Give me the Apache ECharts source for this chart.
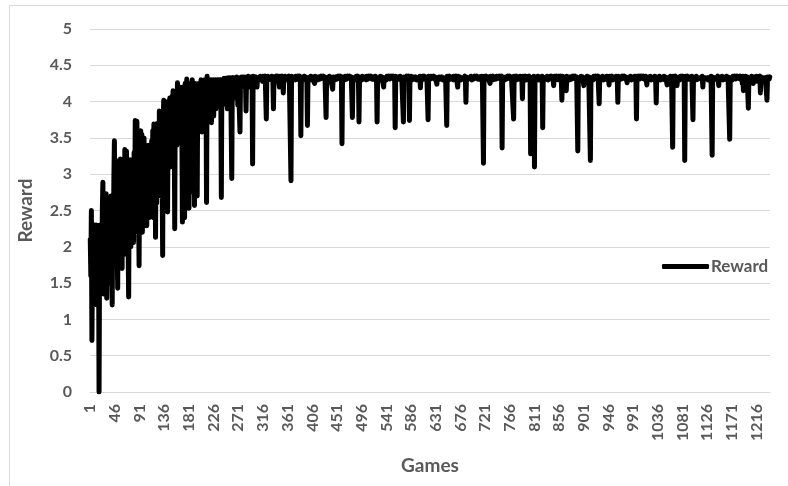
<!DOCTYPE html>
<html>
<head>
<meta charset="utf-8">
<script src="https://cdn.jsdelivr.net/npm/echarts@6/dist/echarts.min.js"></script>
<style>
html,body{margin:0;padding:0;background:#fff;}
#chart{width:788px;height:486px;}
</style>
</head>
<body>
<div id="chart"></div>
<script>
// Reward per game (games 1..1240)
const rewardsEarly = [
2.1,1.6,2.5,0.71,1.8,2.2,1.4,2.3,1.9,2.2,
1.5,2.3,1.2,2.0,1.7,2.25,0.0,1.9,2.3,1.4,
2.2,1.6,2.5,2.89,1.35,2.7,1.8,2.6,2.1,2.73,
1.29,2.4,1.9,2.6,1.6,2.5,1.8,1.5,2.7,1.9,
1.2,2.6,1.9,2.9,3.46,2.1,3.2,1.8,2.9,2.0,
1.43,3.0,2.0,2.8,1.9,3.21,2.2,3.0,1.7,2.8,
2.1,3.1,2.0,3.34,2.3,1.9,3.32,2.2,3.1,2.0,
1.31,2.9,2.3,3.2,2.0,3.0,2.5,3.15,2.2,2.06,
3.3,2.4,3.74,2.6,3.5,3.73,2.2,3.6,2.6,1.74,
3.2,2.4,3.6,2.7,3.55,2.2,3.4,2.5,3.5,2.8,
3.3,2.5,3.37,2.29,3.1,2.6,3.4,2.4,3.35,2.7,
3.2,2.6,3.46,2.8,3.6,2.4,3.69,2.9,3.5,2.13,
3.4,2.6,3.7,3.0,3.6,2.8,3.87,3.1,3.75,2.7,
3.6,3.0,1.88,3.8,4.02,3.2,3.9,2.9,3.85,3.3,
3.9,2.48,4.0,3.2,3.7,4.05,3.1,3.95,3.4,4.07,
3.6,4.15,3.3,3.9,2.25,4.1,3.6,4.0,3.4,4.26,
3.8,4.1,3.5,4.2,3.9,3.6,4.15,3.7,2.34,4.05,
4.2,3.7,2.4,4.25,3.9,4.1,4.31,3.5,4.2,3.8,
2.53,4.1,4.25,3.6,4.2,3.9,4.3,3.7,2.75,4.2,
2.57,4.25,3.9,4.2,3.6,2.7,4.22,3.8,4.25,4.0,
4.22,3.6,4.3,3.9,3.58,4.2,4.25,4.0,3.8,4.3,
3.9,4.25,2.61,4.35,4.1,3.85,4.3,4.0,4.25,4.1,
4.3,3.71,4.25,4.1,4.3,3.8,4.28,4.15,4.3,3.9,
4.28,4.2,4.3,4.0,4.3,4.1,4.27,4.3,4.2,2.68,
4.3,3.95,4.28,4.15,4.32,4.0,4.3,4.2,4.32,4.1,
3.9,4.25,4.33,4.1,4.3,4.2,4.33,4.32,2.94,4.3,
4.33,4.2,4.32,4.05,4.33,4.3,4.25,4.34,4.3,3.95,
4.33,4.31,4.34,3.58,4.33,4.2,4.34,4.3,4.33,4.25,
4.34,4.32,4.33,4.3,3.87,4.34,4.33,4.31,4.35,4.2,
4.33,4.35,4.3,4.34,4.33,4.31,3.14,4.35,4.33,4.34
];
const rewardsLate = [
4.35,4.31,4.34,4.3,4.2,4.33,4.35,4.31,4.34,4.32,4.35,4.3,4.34,4.33,4.28,4.35,4.32,4.34,4.31,4.35,
4.33,3.76,4.34,4.31,4.35,4.3,4.33,4.35,4.32,4.34,4.31,4.35,4.33,4.3,3.9,4.34,4.35,4.31,4.33,4.35,
4.32,4.34,4.35,4.31,4.33,4.2,4.35,4.32,4.34,4.3,4.35,4.33,4.12,4.34,4.31,4.35,4.33,4.3,4.34,4.35,
4.31,4.33,4.35,4.32,4.34,4.3,2.91,4.35,4.33,4.31,4.34,4.35,4.32,4.33,4.3,4.35,4.34,4.31,4.33,4.35,
4.32,4.34,4.35,4.3,3.53,4.33,4.35,4.31,4.34,4.32,4.35,4.33,4.3,4.34,4.35,4.31,3.67,4.33,4.35,4.32,
4.34,4.31,4.35,4.33,4.3,4.34,4.35,4.32,4.33,4.25,4.35,4.31,4.34,4.33,4.35,4.3,4.32,4.34,4.35,4.31,
4.33,4.35,4.32,4.34,4.3,4.35,4.33,4.31,4.34,4.35,3.78,4.33,4.35,4.31,4.34,4.32,4.35,4.3,4.33,4.34,
4.35,4.31,4.17,4.34,4.33,4.35,4.3,4.32,4.34,4.35,4.31,4.33,4.35,4.32,4.34,4.3,4.35,4.33,4.31,3.42,
4.34,4.35,4.32,4.33,4.3,4.35,4.34,4.31,4.33,4.35,4.32,4.34,4.3,4.35,4.33,4.31,4.34,4.35,3.78,4.33,
4.35,4.31,4.34,4.33,4.3,4.35,4.32,4.34,4.35,4.31,3.72,4.33,4.35,4.32,4.34,4.3,4.35,4.33,4.31,4.34,
4.35,4.32,4.33,4.3,4.35,4.34,4.31,4.33,4.35,4.32,4.34,4.3,4.35,4.33,4.31,4.34,4.35,4.32,4.33,4.3,
4.35,4.34,4.31,3.72,4.33,4.35,4.32,4.34,4.3,4.35,4.33,4.31,4.34,4.35,4.32,4.2,4.33,4.35,4.31,4.34,
4.3,4.35,4.33,4.32,4.34,4.35,4.31,4.33,4.3,4.35,4.34,4.32,4.33,4.35,4.31,4.34,3.64,4.35,4.33,4.3,
4.34,4.35,4.32,4.33,4.31,4.35,4.34,4.3,4.33,4.35,4.32,3.72,4.34,4.35,4.31,4.33,4.3,4.35,4.34,4.32,
4.33,4.35,3.74,4.34,4.31,4.35,4.33,4.3,4.34,4.32,4.35,4.33,4.31,4.34,4.35,4.3,4.33,4.32,4.35,4.34,
4.31,4.35,4.19,4.33,4.34,4.3,4.35,4.32,4.33,4.35,4.31,4.34,4.33,4.35,4.3,4.32,3.75,4.35,4.33,4.34,
4.31,4.35,4.33,4.32,4.34,4.3,4.35,4.33,4.31,4.34,4.35,4.32,4.24,4.33,4.35,4.3,4.34,4.32,4.35,4.33,
4.31,4.34,4.35,4.3,4.33,4.32,4.35,4.34,4.31,4.33,3.67,4.35,4.32,4.34,4.3,4.35,4.33,4.31,4.34,4.35,
4.32,4.33,4.3,4.35,4.34,4.31,4.33,4.35,4.32,4.34,4.2,4.35,4.33,4.31,4.34,4.35,4.3,4.33,4.32,4.35,
4.34,4.31,4.33,4.35,4.32,3.99,4.34,4.35,4.3,4.33,4.35,4.31,4.34,4.32,4.35,4.33,4.3,4.34,4.35,4.31,
4.33,4.35,4.32,4.34,4.3,4.35,4.33,4.31,4.34,4.35,4.32,4.33,4.3,4.35,4.34,4.31,4.33,3.15,4.35,4.32,
4.34,4.3,4.35,4.33,4.31,4.34,4.35,4.32,4.33,4.25,4.35,4.34,4.31,4.33,4.35,4.3,4.32,4.34,4.35,4.33,
4.31,4.35,4.34,4.32,4.33,4.3,4.35,4.34,4.31,4.33,4.35,3.36,4.34,4.32,4.35,4.33,4.3,4.34,4.35,4.31,
4.33,4.35,4.32,4.34,4.3,4.35,4.33,4.31,4.34,4.35,4.32,4.33,3.76,4.35,4.34,4.31,4.33,4.35,4.3,4.34,
4.35,4.32,4.33,4.31,4.35,4.34,4.3,4.33,4.04,4.35,4.32,4.34,4.31,4.35,4.33,4.3,4.34,4.35,4.32,4.33,
4.35,4.31,4.34,3.28,4.33,4.35,4.32,4.34,4.3,4.35,3.1,4.33,4.35,4.31,4.34,4.32,4.35,4.33,4.3,4.34,
4.35,4.32,4.33,4.31,4.35,3.64,4.34,4.3,4.33,4.35,4.32,4.34,4.31,4.35,4.33,4.3,4.34,4.35,4.32,4.33,
4.35,4.31,4.34,4.33,4.3,4.22,4.35,4.32,4.34,4.33,4.35,4.31,4.34,4.3,4.35,4.33,4.32,4.34,4.35,4.31,
4.02,4.35,4.33,4.3,4.34,4.35,4.32,4.33,4.15,4.35,4.31,4.34,4.33,4.35,4.3,4.32,4.34,4.35,4.31,4.33,
4.35,4.32,4.34,4.3,4.35,4.33,4.31,4.34,4.35,3.32,4.33,4.35,4.32,4.34,4.3,4.35,4.33,4.31,4.34,4.35,
4.22,4.33,4.35,4.32,4.34,4.3,4.35,4.33,4.31,4.34,4.35,4.32,3.19,4.33,4.35,4.31,4.34,4.3,4.35,4.33,
4.32,4.34,4.35,4.31,4.33,4.3,4.35,4.34,3.97,4.33,4.35,4.32,4.34,4.31,4.35,4.33,4.3,4.34,4.35,4.32,
4.33,4.31,4.35,4.34,4.3,4.33,4.23,4.35,4.32,4.34,4.31,4.35,4.33,4.3,4.34,4.35,4.32,4.33,4.31,4.35,
4.34,4.32,3.99,4.35,4.33,4.3,4.34,4.35,4.31,4.33,4.35,4.32,4.34,4.3,4.35,4.33,4.31,4.34,4.35,4.26,
4.33,4.35,4.32,4.34,4.31,4.35,4.33,4.3,4.34,4.35,4.32,4.33,4.31,4.35,4.34,4.3,3.76,4.35,4.33,4.32,
4.34,4.35,4.31,4.33,4.3,4.35,4.34,4.32,4.33,4.35,4.31,4.34,4.3,4.35,4.33,4.23,4.34,4.35,4.32,4.33,
4.31,4.35,4.34,4.3,4.33,4.35,4.32,4.34,4.31,4.35,4.33,4.3,3.98,4.34,4.35,4.32,4.33,4.31,4.35,4.34,
4.3,4.33,4.35,4.32,4.34,4.31,4.35,4.33,4.3,4.34,4.35,4.32,4.23,4.33,4.35,4.31,4.34,4.3,4.35,4.33,
4.32,4.34,3.37,4.35,4.31,4.33,4.3,4.35,4.34,4.32,4.22,4.33,4.35,4.31,4.34,4.3,4.35,4.33,4.32,4.34,
4.35,4.31,4.33,4.34,3.19,4.35,4.32,4.3,4.34,4.35,4.33,4.31,4.34,4.35,4.32,4.33,4.3,4.35,4.34,3.75,
4.33,4.35,4.31,4.34,4.32,4.35,4.3,4.33,4.34,4.35,4.31,4.33,4.35,4.32,4.34,4.3,4.35,4.2,4.33,4.34,
4.35,4.32,4.33,4.31,4.35,4.34,4.3,4.33,4.35,4.32,4.34,4.31,4.35,4.33,3.26,4.34,4.35,4.3,4.33,4.32,
4.35,4.34,4.31,4.33,4.35,4.3,4.22,4.34,4.35,4.32,4.33,4.31,4.35,4.34,4.3,4.33,4.35,4.32,4.34,4.31,
4.35,4.33,4.3,4.34,4.35,4.32,3.48,4.33,4.35,4.31,4.34,4.3,4.35,4.33,4.32,4.34,4.35,4.31,4.33,4.3,
4.35,4.34,4.32,4.33,4.31,4.35,4.34,4.3,4.33,4.25,4.35,4.15,4.34,4.32,4.22,4.35,4.33,4.31,4.34,4.35,
3.91,4.33,4.35,4.32,4.34,4.3,4.35,4.33,4.31,4.25,4.34,4.35,4.32,4.33,4.3,4.35,4.28,4.34,4.35,4.31,
4.33,4.35,4.12,4.34,4.32,4.35,4.3,4.33,4.34,4.35,4.31,4.33,4.35,4.32,4.02,4.34,4.33,4.35,4.31,4.34
];
const rewards = rewardsEarly.concat(rewardsLate);
const games = rewards.map((_, i) => String(i + 1));   // game numbers 1..N
const yTicks = { min: 0, max: 5, step: 0.5 };
const seriesName = 'Reward';
const xTitle = 'Games';
const yTitle = 'Reward';

const FONT = 'Lato';
const GREY = '#595959';
const chart = echarts.init(document.getElementById('chart'), null, { renderer: 'canvas' });
chart.setOption({
  animation: false,
  backgroundColor: '#ffffff',
  graphic: [{
    type: 'rect', left: 7, top: 3,
    shape: { width: 800, height: 500 },
    style: { fill: 'none', stroke: '#d9d9d9', lineWidth: 1 },
    silent: true
  }],
  grid: { left: 90, right: 18, top: 29, bottom: 94, containLabel: false },
  legend: {
    data: [seriesName],
    icon: 'roundRect',
    left: 657, top: 253,
    itemWidth: 47, itemHeight: 5, itemGap: 2,
    itemStyle: { color: '#000000' },
    textStyle: { fontFamily: FONT, fontWeight: 'bold', fontSize: 17, color: GREY, padding: [0, 0, 0, -3] }
  },
  xAxis: {
    type: 'category',
    data: games,
    boundaryGap: true,
    name: xTitle,
    nameLocation: 'middle',
    nameGap: 64,
    nameTextStyle: { fontFamily: FONT, fontWeight: 'bold', fontSize: 19, color: GREY },
    axisLine: { lineStyle: { color: '#d9d9d9', width: 1 } },
    axisTick: { show: false },
    axisLabel: {
      interval: 44, rotate: 90, margin: 12,
      fontFamily: FONT, fontWeight: 'bold', fontSize: 16, color: GREY
    },
    splitLine: { show: false }
  },
  yAxis: {
    type: 'value',
    min: yTicks.min, max: yTicks.max, interval: yTicks.step,
    name: yTitle,
    nameLocation: 'middle',
    nameGap: 55,
    nameTextStyle: { fontFamily: FONT, fontWeight: 'bold', fontSize: 19, color: GREY },
    axisLine: { show: false },
    axisTick: { show: false },
    axisLabel: { margin: 18, fontFamily: FONT, fontWeight: 'bold', fontSize: 16, color: GREY },
    splitLine: { lineStyle: { color: '#d9d9d9', width: 1 } }
  },
  series: [{
    name: seriesName,
    type: 'line',
    data: rewards,
    symbol: 'none',
    showSymbol: false,
    smooth: false,
    lineStyle: { color: '#000000', width: 5, cap: 'round', join: 'round' },
    itemStyle: { color: '#000000' }
  }]
});
</script>
</body>
</html>
